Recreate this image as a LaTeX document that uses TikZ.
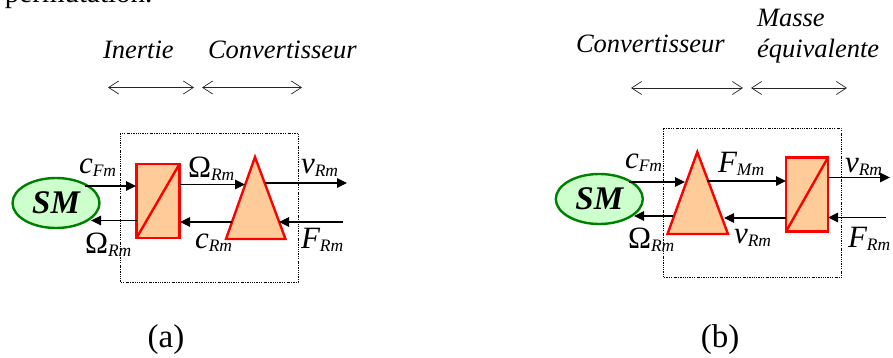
\documentclass[tikz,border=0pt]{standalone}
\usepackage{fontspec}
\setmainfont{Liberation Serif}
\usetikzlibrary{arrows.meta,shapes.geometric}
\definecolor{blockfill}{HTML}{FFCC99}
\definecolor{smfill}{HTML}{CCFFCC}
\definecolor{smline}{HTML}{008000}
\newcommand{\sgl}[2]{{\fontsize{31}{33}\selectfont #1}\raisebox{-3.5pt}{\fontsize{17.5}{20}\selectfont\itshape #2}}
\newcommand{\ci}{\itshape c}
\newcommand{\vi}{\itshape v}
\newcommand{\Fi}{\itshape F}
\tikzset{
  x=1pt,y=-1pt,
  every node/.style={inner sep=0pt,outer sep=0pt},
  conv/.style={draw=red,fill=blockfill,line width=2.4pt,line join=miter},
  blockbox/.style={conv,rectangle,minimum width=#1,minimum height=74pt},
  smnode/.style={draw=smline,fill=smfill,line width=2.4pt,ellipse,minimum width=87pt,minimum height=50pt,font=\fontsize{33}{35}\selectfont\bfseries\itshape},
  sig/.style={draw=black,line width=1.6pt,-{Triangle[length=10pt,width=9.5pt]}},
  span/.style={draw=black!85,line width=0.7pt,{Straight Barb[length=10pt,width=13pt]}-{Straight Barb[length=10pt,width=13pt]}},
  frame/.style={draw=black,line width=0.8pt,dash pattern=on 1.6pt off 1.2pt on 0.6pt off 1.2pt},
  head/.style={anchor=base west,font=\fontsize{26.5}{28}\selectfont\itshape},
  val/.style={anchor=base west},
  capt/.style={anchor=base,font=\fontsize{33}{35}\selectfont},
}
\begin{document}
\begin{tikzpicture}
\useasboundingbox (0,0) rectangle (893,358);
\begin{scope}
\clip (0,0) rectangle (893,358);
\node[anchor=base west,font=\fontsize{29}{31}\selectfont] (cut) at (5,3) {permutation.};
\end{scope}

% ---------- (a) ----------
\node[head] (ta1) at (103,59) {Inertie};
\node[head] (ta2) at (208,59) {Convertisseur};
\coordinate (sa1) at (108,87.5); \coordinate (sa2) at (194,87.5);
\coordinate (sa3) at (202,87.5); \coordinate (sa4) at (302,87.5);
\draw[span] (sa1) -- (sa2);
\draw[span] (sa3) -- (sa4);
\coordinate (fa1) at (120,133); \coordinate (fa2) at (298,282);
\draw[frame] (fa1) rectangle (fa2);

\node[smnode] (sma) at (56,203) {SM};
\node[blockbox=43pt] (ra) at (158,201) {};
\draw[red,line width=2.4pt] (ra.north east) -- (ra.south west);
\coordinate (tap) at (255,157); \coordinate (tal) at (226,239); \coordinate (tar) at (285.5,239);
\draw[conv] (tap) -- (tar) -- (tal) -- cycle;

\coordinate (a1s) at (85,186);   \coordinate (a1e) at (136,186);
\coordinate (a2s) at (137,220.5);\coordinate (a2e) at (91,220.5);
\coordinate (a3s) at (180,184.5);\coordinate (a3e) at (245,184.5);
\coordinate (a4s) at (232,222);  \coordinate (a4e) at (180,222);
\coordinate (a5s) at (265,183);  \coordinate (a5e) at (347,183);
\coordinate (a6s) at (343,222);  \coordinate (a6e) at (279,222);
\draw[sig] (a1s) -- (a1e);
\draw[sig] (a2s) -- (a2e);
\draw[sig] (a3s) -- (a3e);
\draw[sig] (a4s) -- (a4e);
\draw[sig] (a5s) -- (a5e);
\draw[sig] (a6s) -- (a6e);

\node[val] (la1) at (79,173) {\sgl{\ci}{Fm}};
\node[val] (la2) at (85,253) {\sgl{Ω}{Rm}};
\node[val] (la3) at (188,177) {\sgl{Ω}{Rm}};
\node[val] (la4) at (195,248) {\sgl{\ci}{Rm}};
\node[val] (la5) at (301,173) {\sgl{\vi}{Rm}};
\node[val] (la6) at (301,248) {\sgl{\Fi}{Rm}};
\node[capt] (capa) at (166,347) {(a)};

% ---------- (b) ----------
\node[head] (tb1) at (576,53) {Convertisseur};
\node[head] (tb2) at (757,27) {Masse};
\node[head] (tb3) at (757,58) {équivalente};
\coordinate (sb1) at (631,88); \coordinate (sb2) at (743,88);
\coordinate (sb3) at (751,88); \coordinate (sb4) at (847,88);
\draw[span] (sb1) -- (sb2);
\draw[span] (sb3) -- (sb4);
\coordinate (fb1) at (663.5,128.5); \coordinate (fb2) at (841.7,277.7);
\draw[frame] (fb1) rectangle (fb2);

\node[smnode] (smb) at (599.3,199) {SM};
\node[blockbox=42pt] (rb) at (807,194.5) {};
\draw[red,line width=2.4pt] (rb.north east) -- (rb.south west);
\coordinate (tbp) at (697.3,152); \coordinate (tbl) at (667.5,234); \coordinate (tbr) at (728,234);
\draw[conv] (tbp) -- (tbr) -- (tbl) -- cycle;

\coordinate (b1s) at (629,182);  \coordinate (b1e) at (685,182);
\coordinate (b2s) at (673,216);  \coordinate (b2e) at (634,216);
\coordinate (b3s) at (707,181);  \coordinate (b3e) at (786,181);
\coordinate (b4s) at (786,218);  \coordinate (b4e) at (724,218);
\coordinate (b5s) at (828,177.5);\coordinate (b5e) at (890,177.5);
\coordinate (b6s) at (886,217.5);\coordinate (b6e) at (828,217.5);
\draw[sig] (b1s) -- (b1e);
\draw[sig] (b2s) -- (b2e);
\draw[sig] (b3s) -- (b3e);
\draw[sig] (b4s) -- (b4e);
\draw[sig] (b5s) -- (b5e);
\draw[sig] (b6s) -- (b6e);

\node[val] (lb1) at (625,168) {\sgl{\ci}{Fm}};
\node[val] (lb2) at (628,248) {\sgl{Ω}{Rm}};
\node[val] (lb3) at (718,172) {\sgl{\Fi}{Mm}};
\node[val] (lb4) at (734,243) {\sgl{\vi}{Rm}};
\node[val] (lb5) at (845,172) {\sgl{\vi}{Rm}};
\node[val] (lb6) at (848,247) {\sgl{\Fi}{Rm}};
\node[capt] (capb) at (720,347) {(b)};
\end{tikzpicture}
\end{document}
